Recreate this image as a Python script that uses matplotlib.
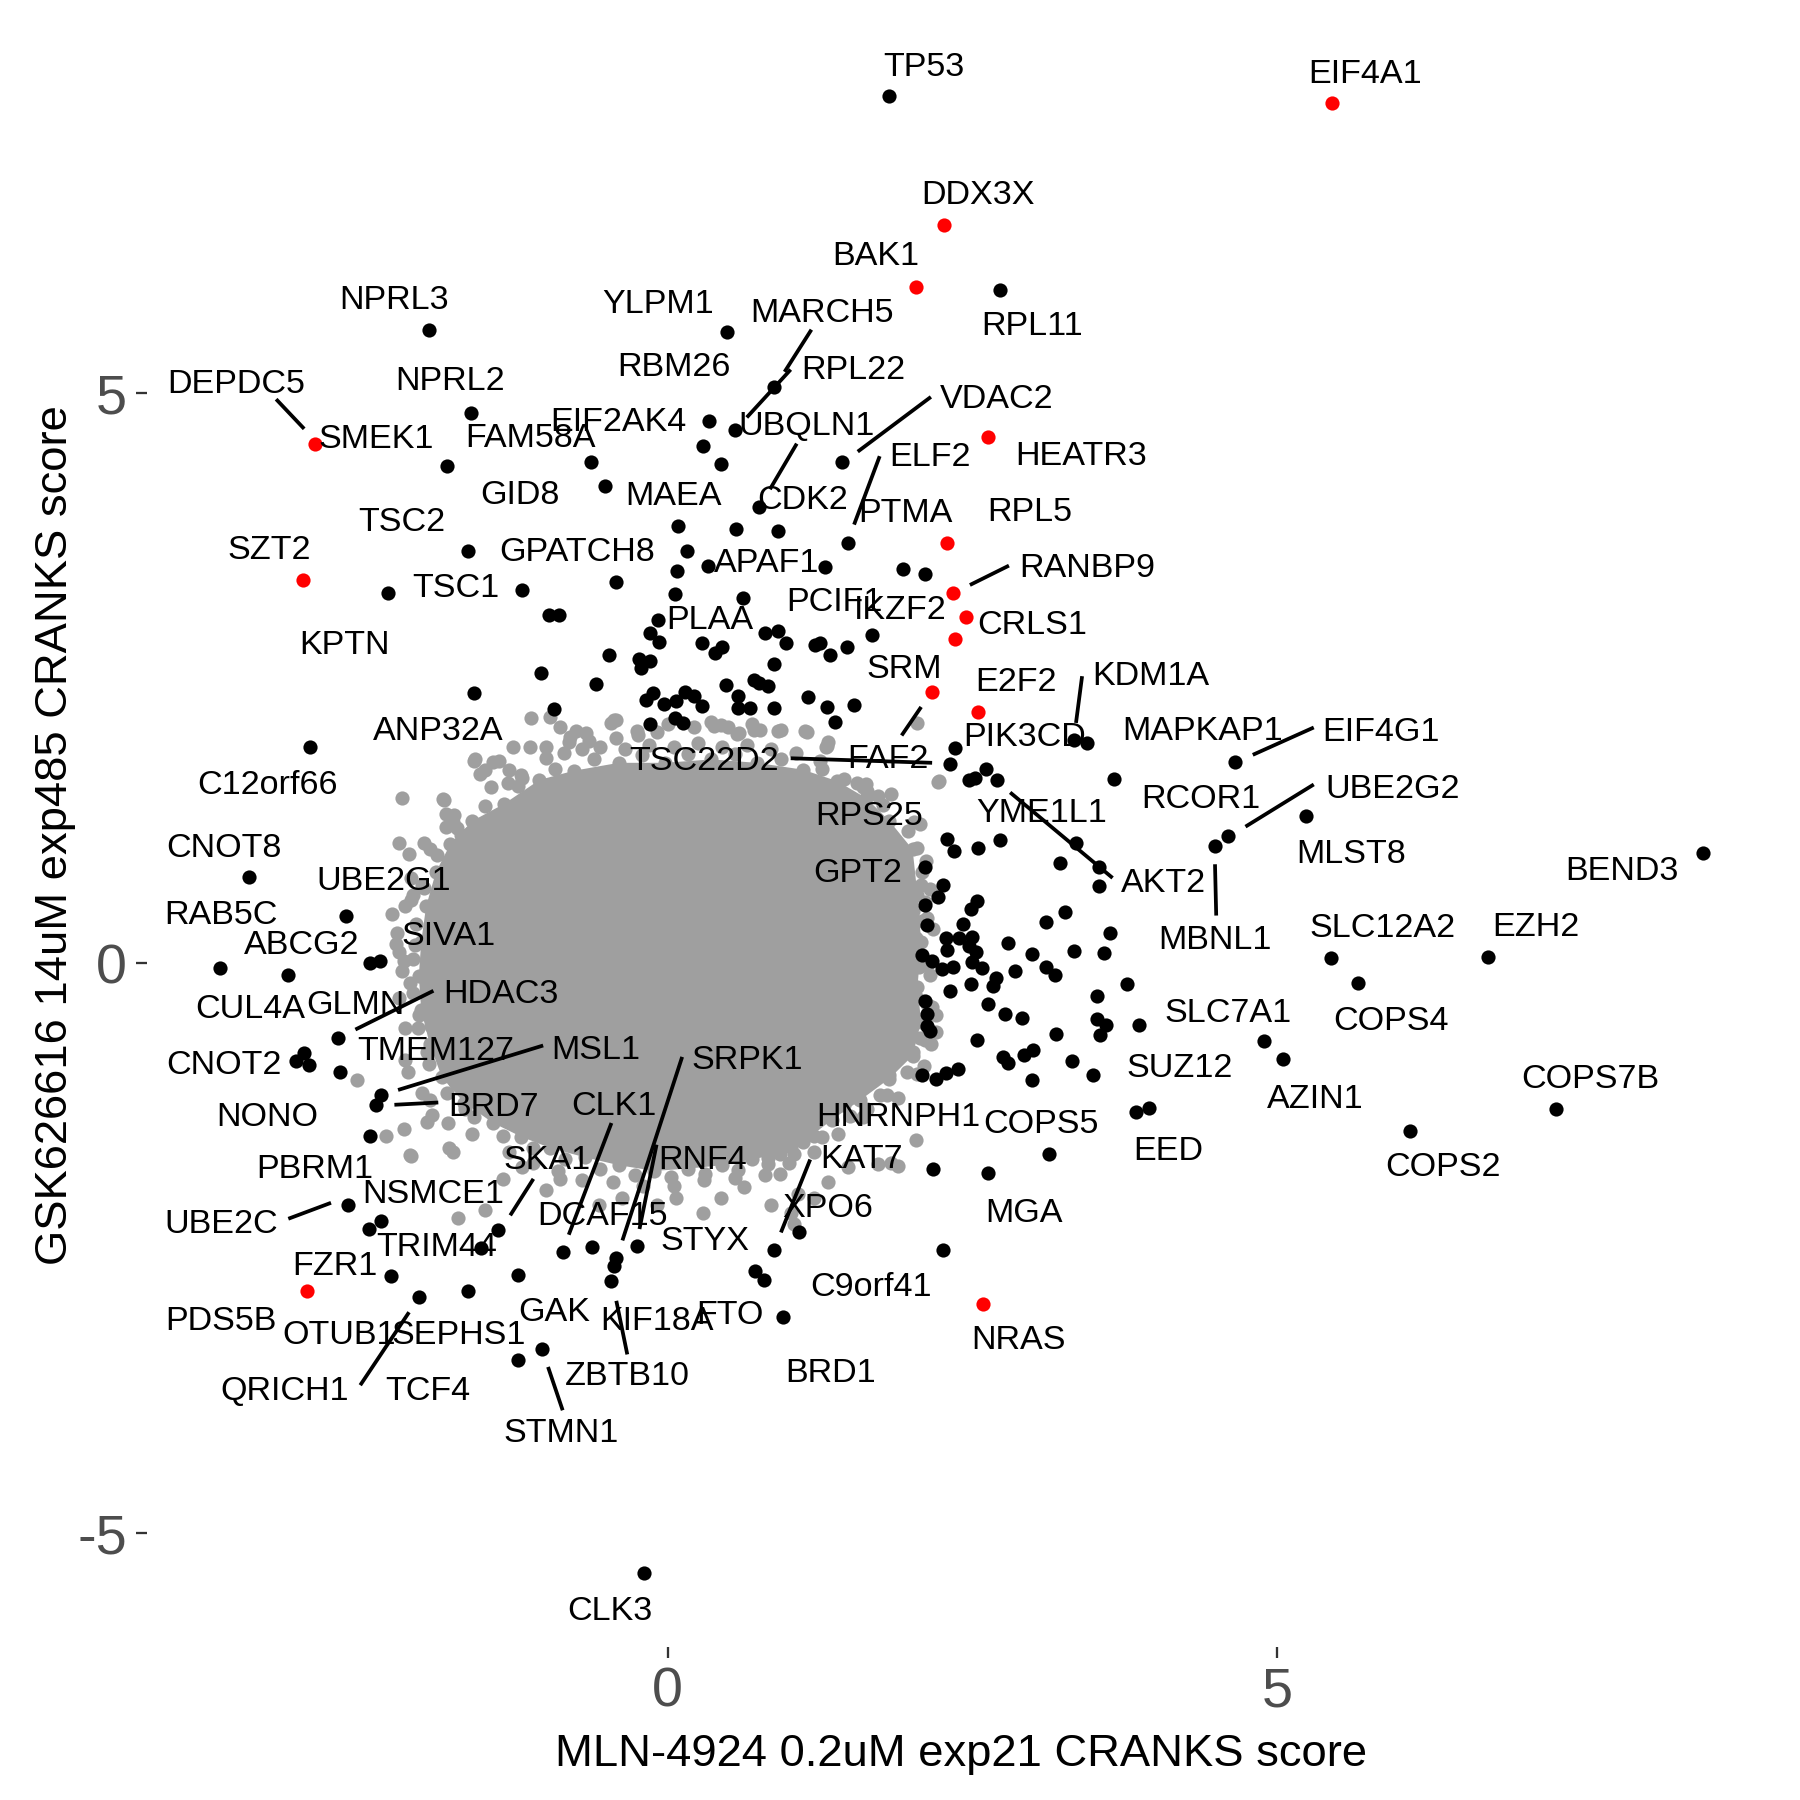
"""CRANKS score comparison: MLN-4924 (x) vs GSK626616 (y), ggplot-like scatter with repelled gene labels."""
import matplotlib
matplotlib.use("Agg")
import matplotlib.pyplot as plt

plt.rcParams["font.family"] = ["Liberation Sans", "DejaVu Sans"]
plt.rcParams["axes.unicode_minus"] = False

GRAY = "#9f9f9f"
RED = "#ff0000"

# dense core of the background genes (outline of the solid grey area)
core = [(-1.34, 1.40), (-1.05, 1.61), (-0.77, 1.69), (-0.40, 1.76), (-0.02, 1.76),
        (0.36, 1.79), (0.73, 1.76), (1.11, 1.70), (1.39, 1.60), (1.63, 1.45),
        (1.82, 1.25), (2.01, 1.00), (2.05, 0.60), (2.08, 0.19), (2.05, -0.21),
        (2.08, -0.51), (2.01, -0.81), (1.82, -1.01), (1.58, -1.20), (1.35, -1.37),
        (1.11, -1.57), (0.92, -1.67), (0.69, -1.72), (0.45, -1.77), (0.17, -1.80),
        (-0.11, -1.82), (-0.40, -1.77), (-0.68, -1.70), (-0.96, -1.62), (-1.20, -1.52),
        (-1.43, -1.40), (-1.67, -1.22), (-1.85, -1.00), (-1.95, -0.71), (-2.02, -0.41),
        (-2.04, -0.11), (-2.02, 0.19), (-1.98, 0.50), (-1.90, 0.80), (-1.78, 1.05),
        (-1.60, 1.25)]

# background genes sitting on the rim of the core
gray_edge = [(-1.23, 1.56), (-0.92, 1.71), (-0.60, 1.79), (-0.21, 1.83), (0.17, 1.84),
             (0.55, 1.84), (0.93, 1.79), (1.27, 1.71), (1.55, 1.58), (1.77, 1.39),
             (1.97, 1.16), (2.09, 0.80), (2.13, 0.40), (2.13, -0.01), (2.13, -0.36),
             (2.11, -0.67), (1.96, -0.95), (1.74, -1.15), (1.50, -1.34), (1.27, -1.52),
             (1.04, -1.67), (0.82, -1.76), (0.58, -1.81), (0.31, -1.85), (0.03, -1.87),
             (-0.27, -1.86), (-0.55, -1.80), (-0.84, -1.72), (-1.10, -1.62), (-1.35, -1.51),
             (-1.59, -1.35), (-1.81, -1.14), (-1.96, -0.88), (-2.05, -0.57), (-2.09, -0.26),
             (-2.09, 0.04), (-2.06, 0.35), (-2.00, 0.66), (-1.89, 0.95), (-1.73, 1.19),
             (-1.50, 1.38)]

# background genes around the core
gray_top = [(-1.12, 2.15), (-0.96, 2.16), (-0.88, 2.07), (-1.00, 1.90), (-0.81, 1.94),
            (-0.75, 2.04), (-0.64, 1.95), (-0.44, 2.14), (-0.25, 2.04), (0.00, 2.10),
            (0.22, 2.07), (0.50, 2.07), (0.69, 2.10), (0.91, 2.04), (1.13, 2.04),
            (1.32, 1.94), (1.63, 1.57), (1.73, 1.47), (-0.46, 2.11), (-0.42, 1.98),
            (-0.24, 2.00), (-0.09, 2.03), (0.38, 2.08), (0.57, 2.01), (0.76, 2.05),
            (0.93, 2.05), (1.14, 2.03), (1.31, 1.91), (-0.42, 2.14), (0.36, 2.12),
            (0.44, 2.09), (0.71, 2.05), (0.59, 2.02), (1.30, 1.90), (1.60, 1.55),
            (-1.58, 1.79), (-1.43, 1.77), (-1.27, 1.90), (-1.13, 1.90), (-0.80, 1.99),
            (-0.67, 2.02), (-1.0, 1.80), (-0.85, 1.85), (-0.7, 1.88), (-0.55, 1.90),
            (-0.35, 1.88), (-0.15, 1.92), (0.05, 1.90), (0.25, 1.93), (0.45, 1.90),
            (0.65, 1.92), (0.85, 1.88), (1.05, 1.85), (1.25, 1.78), (1.45, 1.62),
            (-1.2, 1.65), (-1.45, 1.55), (-1.3, 1.7)]
gray_left = [(-1.59, 1.78), (-1.54, 1.66), (-1.38, 1.78), (-2.18, 1.45), (-1.84, 1.44),
             (-1.31, 1.58), (-1.82, 1.31), (-1.76, 1.24), (-2.20, 1.06), (-2.00, 1.06),
             (-1.62, 1.14), (-2.09, 0.60), (-2.15, 0.50), (-2.22, 0.27), (-2.23, 0.17),
             (-2.18, -0.07), (-2.11, -0.17), (-2.55, -1.02), (-2.31, -1.51), (-2.11, -1.68),
             (-1.93, -1.33), (-1.76, -1.65), (-1.74, -1.04), (-2.01, -1.14), (-2.15, -0.57),
             (-1.50, 1.70), (-1.82, 1.20), (-1.69, 1.13), (-2.12, 0.96), (-1.19, 1.63),
             (-1.83, 1.43), (-2.13, -0.95), (-1.97, -0.78), (-2.04, -0.45), (-1.94, -0.55),
             (-2.16, 0.02), (-2.07, 0.16), (-2.26, 0.43), (-2.10, 0.56), (-2.01, 0.69),
             (-2.2, -0.3), (-2.15, -0.85), (-1.95, -1.2), (-1.8, -1.4), (-1.6, -1.5),
             (-2.2, 0.1), (-2.1, 0.75), (-1.95, 1.0), (-1.75, 1.3)]
gray_right = [(2.23, 1.60), (2.07, 1.22), (2.01, 0.46), (1.98, 0.36), (2.04, 0.22),
              (2.07, 0.02), (2.17, -0.38), (2.20, -0.45), (2.07, -0.65), (2.01, -0.78),
              (1.82, -0.98), (1.57, -1.19), (2.04, -1.55), (1.73, -1.76), (1.48, -1.79),
              (1.32, -1.92), (1.20, -2.06), (1.01, -2.19), (0.85, -2.12), (1.04, -2.29),
              (2.05, 2.11), (2.22, 1.59), (1.64, 1.51), (1.83, 1.49), (2.02, 1.24),
              (2.05, 1.01), (2.08, 0.69), (2.11, 0.54), (2.09, 0.37), (2.02, 0.17),
              (2.06, -0.03), (2.05, -0.30), (2.14, -0.44), (2.16, -0.71), (2.05, -0.97),
              (1.89, -1.18), (1.64, -1.28), (1.45, -1.24), (1.32, -1.34), (1.20, -1.51),
              (1.01, -1.61), (0.92, -1.85), (1.07, -2.02), (0.82, -1.71), (1.89, -1.78),
              (1.83, -1.75), (2.12, 0.9), (2.15, 0.65), (2.18, 0.3), (2.15, -0.1),
              (2.2, -0.6), (2.1, -0.9), (1.8, -1.15), (1.6, -1.35), (1.4, -1.5)]
gray_bottom = [(0.63, -1.96), (0.44, -2.06), (0.29, -2.19), (0.07, -2.06), (-0.09, -2.12),
               (-0.37, -2.06), (-0.56, -2.12), (-0.88, -1.89), (-1.00, -1.99), (-1.19, -1.79),
               (-1.35, -1.89), (-1.50, -2.16), (-1.72, -2.23), (-1.79, -1.62), (-2.10, -1.69),
               (-2.16, -1.45), (-1.97, -1.39), (-1.66, -1.28), (-1.3, -1.65), (-1.1, -1.75),
               (-0.9, -1.82), (-0.7, -1.9), (-0.45, -1.92), (-0.2, -1.95), (0.05, -1.95),
               (0.3, -1.9), (0.55, -1.88), (0.8, -1.86), (1.0, -1.75), (1.2, -1.65)]

# hits (black)
hits_upper = [(1.82, 7.61), (2.73, 5.91), (-1.96, 5.56), (0.49, 5.54), (0.87, 5.06),
              (-1.61, 4.83), (0.34, 4.76), (0.55, 4.68), (0.29, 4.54), (0.44, 4.38),
              (1.43, 4.40), (-1.81, 4.36), (-0.63, 4.40), (-0.51, 4.19), (0.75, 4.00),
              (0.09, 3.84), (0.56, 3.81), (0.91, 3.79), (1.48, 3.69), (0.16, 3.62),
              (-1.64, 3.62), (0.33, 3.49), (1.29, 3.48), (0.08, 3.44), (-0.42, 3.35),
              (1.93, 3.46), (2.11, 3.42), (-2.29, 3.25), (-1.19, 3.28), (0.06, 3.24),
              (0.62, 3.21), (-0.97, 3.06), (-0.89, 3.06), (-0.08, 3.01), (-0.14, 2.90),
              (-0.07, 2.82), (0.28, 2.81), (0.45, 2.78), (0.39, 2.72), (0.80, 2.90),
              (0.91, 2.92), (0.97, 2.81), (1.21, 2.79), (1.25, 2.81), (1.33, 2.71),
              (1.47, 2.78), (1.68, 2.88), (-0.48, 2.71), (-0.23, 2.67), (-0.14, 2.65),
              (-0.22, 2.59), (-1.04, 2.55), (0.87, 2.63), (-1.59, 2.37), (-0.59, 2.45),
              (0.48, 2.44), (0.71, 2.49), (0.75, 2.46), (0.82, 2.43), (0.58, 2.35),
              (0.58, 2.24), (0.68, 2.24), (0.87, 2.24), (-0.18, 2.31), (-0.12, 2.37),
              (-0.03, 2.28), (0.07, 2.30), (0.14, 2.38), (0.22, 2.35), (0.28, 2.26),
              (-0.14, 2.10), (0.06, 2.15), (0.13, 2.11), (1.15, 2.34), (1.31, 2.25),
              (1.53, 2.27), (1.37, 2.12), (-0.93, 2.23), (-2.93, 1.90)]
hits_right = [(2.36, 1.89), (2.32, 1.75), (2.61, 1.71), (2.70, 1.61), (2.47, 1.61),
              (2.52, 1.63), (3.33, 1.96), (3.44, 1.93), (3.66, 1.62), (2.29, 1.09),
              (2.35, 0.99), (2.55, 1.01), (2.73, 1.08), (3.35, 1.06), (3.22, 0.88),
              (3.54, 0.85), (3.54, 0.68), (2.11, 0.85), (2.26, 0.69), (2.22, 0.58),
              (2.11, 0.51), (2.54, 0.55), (2.49, 0.48), (3.26, 0.45), (3.10, 0.36),
              (2.13, 0.34), (2.42, 0.35), (3.63, 0.27), (2.28, 0.22), (2.39, 0.22),
              (2.50, 0.23), (2.29, 0.12), (2.47, 0.15), (2.53, 0.10), (2.79, 0.18),
              (3.33, 0.11), (3.58, 0.09), (2.09, 0.07), (2.17, 0.02), (2.25, -0.05),
              (2.34, -0.03), (2.50, 0.01), (2.58, -0.04), (2.99, 0.08), (3.10, -0.03),
              (3.18, -0.10), (2.85, -0.07), (3.77, -0.18), (2.69, -0.13), (2.67, -0.20),
              (2.49, -0.18), (2.32, -0.24), (3.52, -0.29), (2.11, -0.33), (2.13, -0.44),
              (2.13, -0.55), (2.15, -0.59), (2.63, -0.36), (2.77, -0.44), (2.91, -0.48),
              (3.52, -0.49), (3.60, -0.54), (3.55, -0.63), (3.87, -0.54), (2.54, -0.67),
              (3.19, -0.62), (2.75, -0.82), (2.79, -0.87), (2.92, -0.80), (3.00, -0.76),
              (3.32, -0.86), (3.49, -0.98), (2.99, -1.02), (2.09, -0.98), (2.20, -1.01),
              (2.28, -0.96), (2.38, -0.93), (3.84, -1.30), (3.95, -1.27), (3.13, -1.67),
              (2.18, -1.80), (2.63, -1.84)]
hits_far_right = [(4.65, 1.77), (4.60, 1.12), (4.49, 1.03), (5.24, 1.29), (8.49, 0.97),
                  (5.44, 0.05), (5.66, -0.17), (6.73, 0.06), (4.89, -0.68), (5.05, -0.84),
                  (7.29, -1.28), (6.09, -1.47)]
hits_left = [(-3.43, 0.76), (-2.64, 0.42), (-2.44, 0.00), (-2.36, 0.02), (-3.67, -0.04),
             (-3.11, -0.10), (-2.70, -0.65), (-3.05, -0.86), (-2.98, -0.79), (-2.94, -0.89),
             (-2.69, -0.95), (-2.35, -1.15), (-2.39, -1.24), (-2.44, -1.51), (-2.62, -2.12)]
hits_lower = [(-2.45, -2.33), (-2.35, -2.26), (-1.53, -2.50), (-1.39, -2.34), (-2.27, -2.74),
              (-2.04, -2.93), (-1.64, -2.87), (-1.23, -2.73), (-0.86, -2.53), (-0.62, -2.49),
              (-1.23, -3.48), (-1.03, -3.38), (-0.42, -2.58), (-0.25, -2.48), (-0.44, -2.65),
              (-0.46, -2.79), (0.72, -2.70), (0.79, -2.78), (0.87, -2.51), (1.08, -2.36),
              (0.95, -3.10), (2.26, -2.51), (-0.19, -5.35)]

# hits highlighted in red
hits_red = [(5.45, 7.55), (2.27, 6.48), (2.04, 5.93), (-2.89, 4.56), (2.63, 4.62),
            (2.29, 3.69), (-2.99, 3.36), (2.34, 3.25), (2.45, 3.04), (2.36, 2.85),
            (2.17, 2.38), (2.55, 2.21), (-2.96, -2.87), (2.59, -2.99)]

# gene labels: (name, x, y) at the label position
labels = [
    ("TP53", 2.10, 7.89), ("EIF4A1", 5.72, 7.83), ("DDX3X", 2.55, 6.77), ("BAK1", 1.71, 6.23),
    ("RPL11", 2.99, 5.62), ("NPRL3", -2.24, 5.85), ("YLPM1", -0.08, 5.81), ("MARCH5", 1.27, 5.73),
    ("RBM26", 0.05, 5.26), ("RPL22", 1.52, 5.23), ("DEPDC5", -3.54, 5.11), ("NPRL2", -1.78, 5.14),
    ("VDAC2", 2.70, 4.98), ("EIF2AK4", -0.40, 4.78), ("UBQLN1", 1.14, 4.74), ("FAM58A", -1.12, 4.64),
    ("SMEK1", -2.39, 4.63), ("HEATR3", 3.39, 4.48), ("ELF2", 2.15, 4.47), ("GID8", -1.21, 4.14),
    ("MAEA", 0.05, 4.13), ("CDK2", 1.11, 4.09), ("PTMA", 1.95, 3.98), ("RPL5", 2.97, 3.99),
    ("TSC2", -2.18, 3.90), ("SZT2", -3.27, 3.65), ("GPATCH8", -0.74, 3.64), ("APAF1", 0.81, 3.54),
    ("RANBP9", 3.44, 3.50), ("TSC1", -1.74, 3.32), ("PCIF1", 1.37, 3.20), ("IKZF2", 1.91, 3.13),
    ("PLAA", 0.35, 3.04), ("CRLS1", 2.99, 3.00), ("KPTN", -2.65, 2.82), ("SRM", 1.94, 2.61),
    ("KDM1A", 3.96, 2.55), ("E2F2", 2.86, 2.50), ("ANP32A", -1.88, 2.07), ("MAPKAP1", 4.39, 2.07),
    ("EIF4G1", 5.85, 2.06), ("PIK3CD", 2.93, 2.01), ("TSC22D2", 0.30, 1.80), ("FAF2", 1.81, 1.82),
    ("C12orf66", -3.28, 1.59), ("UBE2G2", 5.95, 1.56), ("RCOR1", 4.37, 1.47), ("YME1L1", 3.07, 1.35),
    ("RPS25", 1.65, 1.32), ("CNOT8", -3.64, 1.04), ("MLST8", 5.61, 0.99), ("BEND3", 7.83, 0.84),
    ("GPT2", 1.56, 0.82), ("UBE2G1", -2.33, 0.75), ("AKT2", 4.07, 0.73), ("RAB5C", -3.66, 0.45),
    ("EZH2", 7.12, 0.35), ("SLC12A2", 5.86, 0.34), ("SIVA1", -1.80, 0.27), ("MBNL1", 4.49, 0.23),
    ("ABCG2", -3.00, 0.19), ("HDAC3", -1.37, -0.24), ("GLMN", -2.56, -0.34), ("CUL4A", -3.42, -0.37),
    ("SLC7A1", 4.60, -0.41), ("COPS4", 5.93, -0.48), ("TMEM127", -1.90, -0.74), ("MSL1", -0.59, -0.73),
    ("SRPK1", 0.65, -0.82), ("CNOT2", -3.64, -0.86), ("SUZ12", 4.20, -0.89), ("COPS7B", 7.57, -0.99),
    ("AZIN1", 5.31, -1.16), ("BRD7", -1.43, -1.23), ("CLK1", -0.44, -1.22), ("HNRNPH1", 1.89, -1.32),
    ("NONO", -3.28, -1.32), ("COPS5", 3.06, -1.38), ("EED", 4.11, -1.62), ("SKA1", -0.99, -1.70),
    ("RNF4", 0.29, -1.70), ("KAT7", 1.59, -1.69), ("COPS2", 6.36, -1.76), ("PBRM1", -2.89, -1.78),
    ("NSMCE1", -1.92, -2.00), ("XPO6", 1.31, -2.12), ("MGA", 2.92, -2.16), ("DCAF15", -0.53, -2.19),
    ("UBE2C", -3.66, -2.26), ("STYX", 0.31, -2.41), ("TRIM44", -1.89, -2.46), ("FZR1", -2.73, -2.63),
    ("C9orf41", 1.67, -2.81), ("GAK", -0.93, -3.03), ("FTO", 0.51, -3.06), ("PDS5B", -3.66, -3.11),
    ("KIF18A", -0.09, -3.11), ("OTUB1", -2.69, -3.23), ("SEPHS1", -1.71, -3.23), ("NRAS", 2.88, -3.28),
    ("BRD1", 1.34, -3.57), ("ZBTB10", -0.33, -3.59), ("QRICH1", -3.14, -3.72), ("TCF4", -1.97, -3.72),
    ("STMN1", -0.87, -4.09), ("CLK3", -0.47, -5.65),
]

# label leader segments: (x0, y0, x1, y1)
segments = [
    (-3.21, 4.95, -2.98, 4.69), (1.18, 5.56, 0.96, 5.19), (1.01, 5.21, 0.65, 4.79),
    (2.16, 4.97, 1.56, 4.49), (1.06, 4.56, 0.84, 4.16), (1.74, 4.45, 1.53, 3.85),
    (2.80, 3.49, 2.48, 3.32), (3.40, 2.52, 3.35, 2.11), (2.08, 2.25, 1.92, 2.00),
    (1.01, 1.80, 2.17, 1.76), (4.80, 1.83, 5.30, 2.07), (4.74, 1.20, 5.30, 1.57),
    (2.81, 1.50, 3.65, 0.75), (4.49, 0.87, 4.50, 0.42), (-2.56, -0.58, -1.92, -0.24),
    (-2.21, -1.11, -1.02, -0.72), (-2.24, -1.24, -1.88, -1.22), (-0.46, -1.40, -0.81, -2.38),
    (0.12, -0.82, -0.37, -2.43), (-0.09, -1.59, -0.23, -2.33), (-1.10, -1.89, -1.29, -2.21),
    (1.17, -1.72, 0.93, -2.36), (-3.11, -2.24, -2.76, -2.10), (-2.52, -3.70, -2.12, -3.06),
    (-0.98, -3.54, -0.86, -3.92), (-0.42, -2.96, -0.33, -3.43),
]


def xy(pts):
    return [p[0] for p in pts], [p[1] for p in pts]


fig = plt.figure(figsize=(6, 6), dpi=300)
ax = fig.add_axes([0.0816, 0.0848, 0.905, 0.9024])

PT = 11.6  # marker area
cx, cy = xy(core)
ax.fill(cx, cy, color=GRAY, lw=0, zorder=1)
for grp in (core, gray_edge, gray_top, gray_left, gray_right, gray_bottom):
    gx, gy = xy(grp)
    ax.scatter(gx, gy, s=PT, c=GRAY, lw=0, zorder=2)
for grp in (hits_upper, hits_right, hits_far_right, hits_left, hits_lower):
    bx, by = xy(grp)
    ax.scatter(bx, by, s=PT, c="black", lw=0, zorder=3)
rx, ry = xy(hits_red)
ax.scatter(rx, ry, s=PT, c=RED, lw=0, zorder=4)

for x0, y0, x1, y1 in segments:
    ax.plot([x0, x1], [y0, y1], color="black", lw=0.9, solid_capstyle="butt", zorder=5)

for name, lx, ly in labels:
    # label y is the cap-height centre; shift down to the baseline
    ax.annotate(name, (lx, ly), xytext=(0, -2.9), textcoords="offset points",
                ha="center", va="baseline", fontsize=8.2, color="black", zorder=6)

ax.set_xlim(-4.27, 9.09)
ax.set_ylim(-6.0, 8.25)
ax.set_xticks([0, 5])
ax.set_yticks([-5, 0, 5])
for s in ax.spines.values():
    s.set_visible(False)
ax.set_facecolor("none")
ax.tick_params(length=2.76, width=0.55, color="#333333", labelsize=13.4,
               labelcolor="#4d4d4d")
ax.tick_params(axis="x", pad=1.9)
ax.tick_params(axis="y", pad=2.0)
ax.set_xlabel("MLN-4924 0.2uM exp21 CRANKS score", fontsize=10.9, labelpad=3.7)
ax.set_ylabel("GSK626616 14uM exp485 CRANKS score", fontsize=10.9, labelpad=0.3)

fig.savefig("out.png", dpi=300, facecolor="white")
